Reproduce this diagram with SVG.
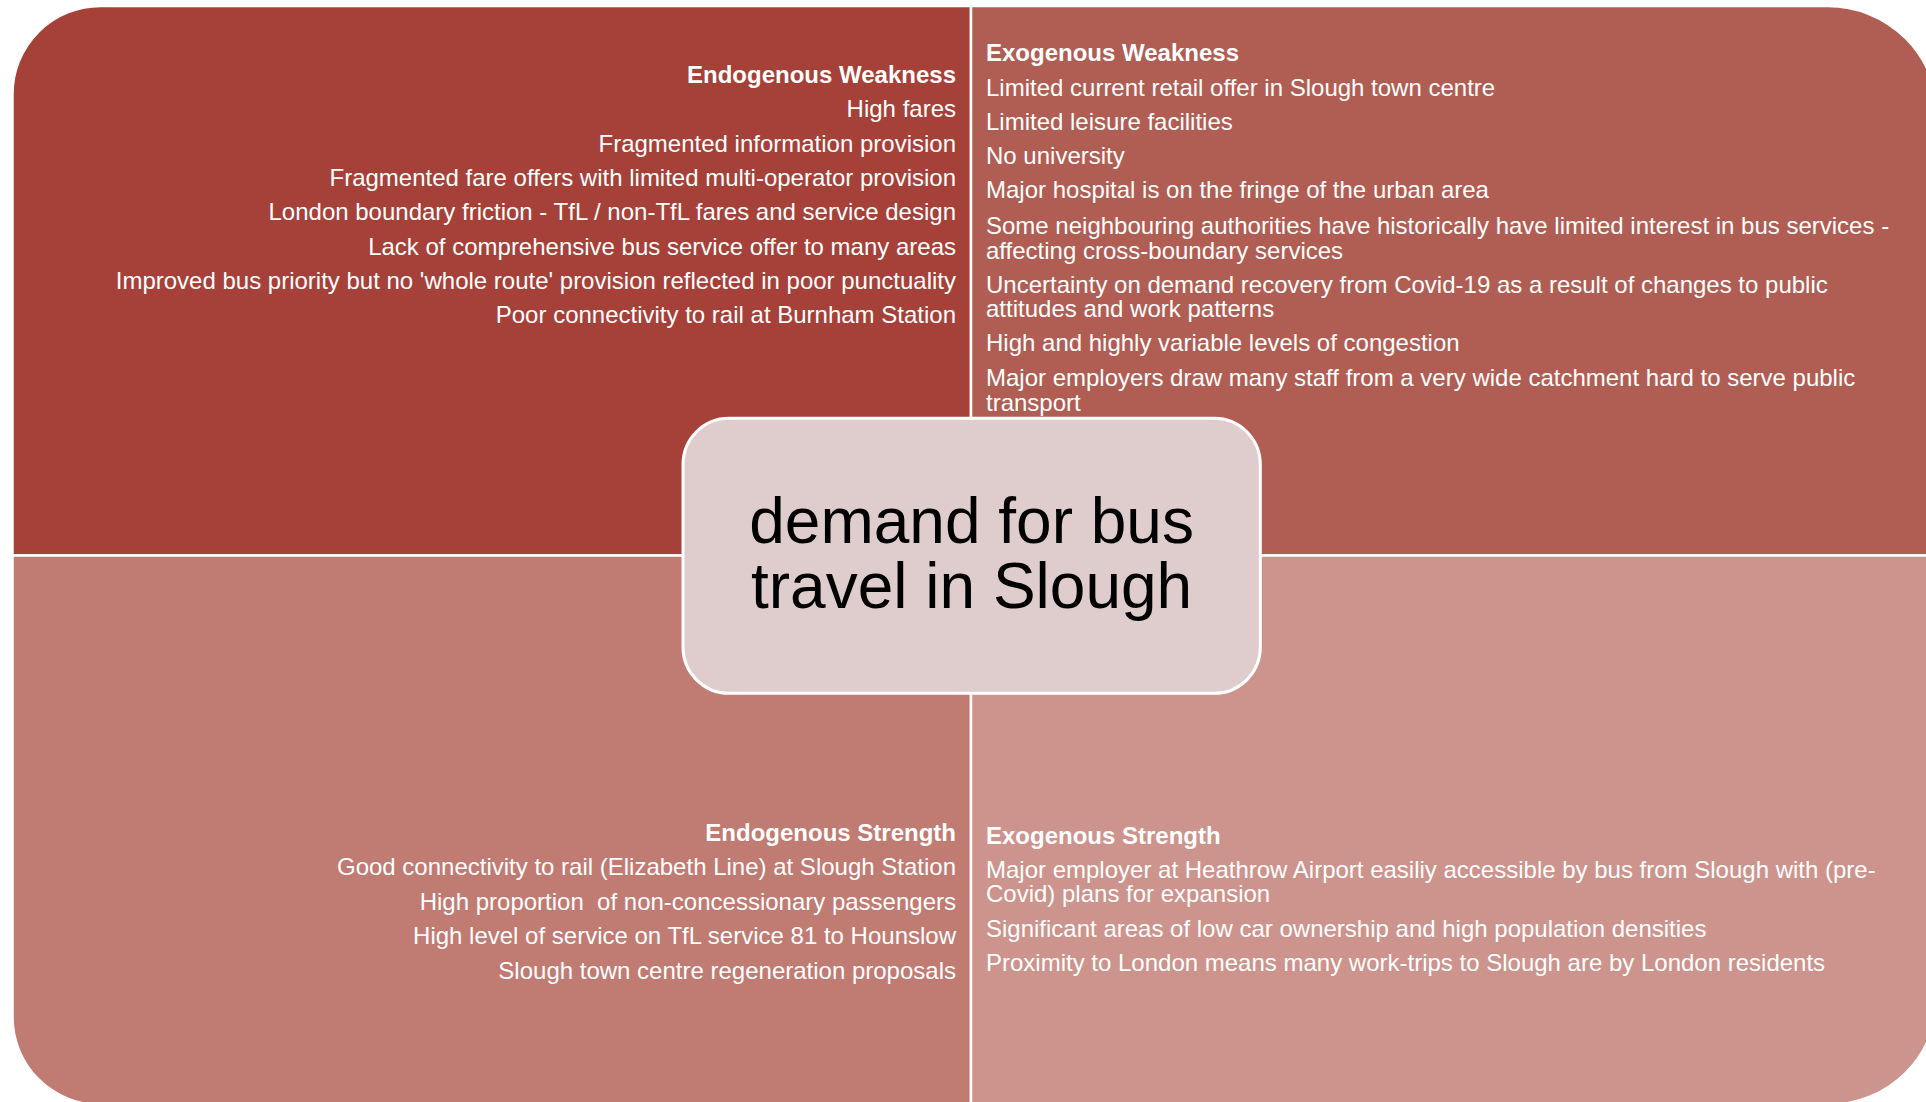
<svg xmlns="http://www.w3.org/2000/svg" width="1926" height="1102" viewBox="0 0 1926 1102">
  <style>
    .quad { stroke: #FFFFFF; stroke-width: 2.5; }
    .q-tl { fill: #A54138; }
    .q-tr { fill: #B05E54; }
    .q-bl { fill: #C07B73; }
    .q-br { fill: #CC948D; }
    .item { font-family: "Liberation Sans", Arial, sans-serif; font-size: 24px; fill: #FFFFFF; }
    .head { font-weight: bold; }
    .right { text-anchor: end; }
    .hub { fill: #DFCCCC; stroke: #FFFFFF; stroke-width: 3; }
    .hub-text { font-family: "Liberation Sans", Arial, sans-serif; font-size: 64px; fill: #000000; text-anchor: middle; }
  </style>

  <rect width="1926" height="1102" fill="#FFFFFF"/>

  <!-- Top-left quadrant: endogenous weaknesses -->
  <g id="endogenous-weakness">
    <path class="quad q-tl" d="M12.5,555.5 V94 A88,88 0 0 1 100.5,6 H971 V555.5 Z"/>
    <text class="item right head" x="956" y="83">Endogenous Weakness</text>
    <text class="item right" x="956" y="117.3">High fares</text>
    <text class="item right" x="956" y="151.6">Fragmented information provision</text>
    <text class="item right" x="956" y="185.9">Fragmented fare offers with limited multi-operator provision</text>
    <text class="item right" x="956" y="220.2">London boundary friction - TfL / non-TfL fares and service design</text>
    <text class="item right" x="956" y="254.5">Lack of comprehensive bus service offer to many areas</text>
    <text class="item right" x="956" y="288.8">Improved bus priority but no 'whole route' provision reflected in poor punctuality</text>
    <text class="item right" x="956" y="323.1">Poor connectivity to rail at Burnham Station</text>
  </g>

  <!-- Top-right quadrant: exogenous weaknesses -->
  <g id="exogenous-weakness">
    <path class="quad q-tr" d="M971,6 H1828 A110,110 0 0 1 1938,116 V555.5 H971 Z"/>
    <text class="item head" x="986" y="61">Exogenous Weakness</text>
    <text class="item" x="986" y="95.5">Limited current retail offer in Slough town centre</text>
    <text class="item" x="986" y="129.5">Limited leisure facilities</text>
    <text class="item" x="986" y="164">No university</text>
    <text class="item" x="986" y="198">Major hospital is on the fringe of the urban area</text>
    <text class="item" x="986" y="233.5">Some neighbouring authorities have historically have limited interest in bus services -</text>
    <text class="item" x="986" y="258.5">affecting cross-boundary services</text>
    <text class="item" x="986" y="292.5">Uncertainty on demand recovery from Covid-19 as a result of changes to public</text>
    <text class="item" x="986" y="317">attitudes and work patterns</text>
    <text class="item" x="986" y="351">High and highly variable levels of congestion</text>
    <text class="item" x="986" y="385.5">Major employers draw many staff from a very wide catchment hard to serve public</text>
    <text class="item" x="986" y="410.5">transport</text>
  </g>

  <!-- Bottom-left quadrant: endogenous strengths -->
  <g id="endogenous-strength">
    <path class="quad q-bl" d="M12.5,555.5 H971 V1105 H100.5 A88,88 0 0 1 12.5,1017 Z"/>
    <text class="item right head" x="956" y="840.5">Endogenous Strength</text>
    <text class="item right" x="956" y="875">Good connectivity to rail (Elizabeth Line) at Slough Station</text>
    <text class="item right" x="956" y="909.5" xml:space="preserve">High proportion  of non-concessionary passengers</text>
    <text class="item right" x="956" y="944">High level of service on TfL service 81 to Hounslow</text>
    <text class="item right" x="956" y="978.5">Slough town centre regeneration proposals</text>
  </g>

  <!-- Bottom-right quadrant: exogenous strengths -->
  <g id="exogenous-strength">
    <path class="quad q-br" d="M971,555.5 H1938 V995 A110,110 0 0 1 1828,1105 H971 Z"/>
    <text class="item head" x="986" y="843.5">Exogenous Strength</text>
    <text class="item" x="986" y="877.5">Major employer at Heathrow Airport easiliy accessible by bus from Slough with (pre-</text>
    <text class="item" x="986" y="902">Covid) plans for expansion</text>
    <text class="item" x="986" y="936.8">Significant areas of low car ownership and high population densities</text>
    <text class="item" x="986" y="971">Proximity to London means many work-trips to Slough are by London residents</text>
  </g>

  <!-- Central topic -->
  <g id="topic">
    <rect class="hub" x="683" y="418.3" width="577.3" height="275" rx="46" ry="46"/>
    <text class="hub-text" x="971.6" y="542.7">demand for bus</text>
    <text class="hub-text" x="971.6" y="608.3">travel in Slough</text>
  </g>
</svg>
